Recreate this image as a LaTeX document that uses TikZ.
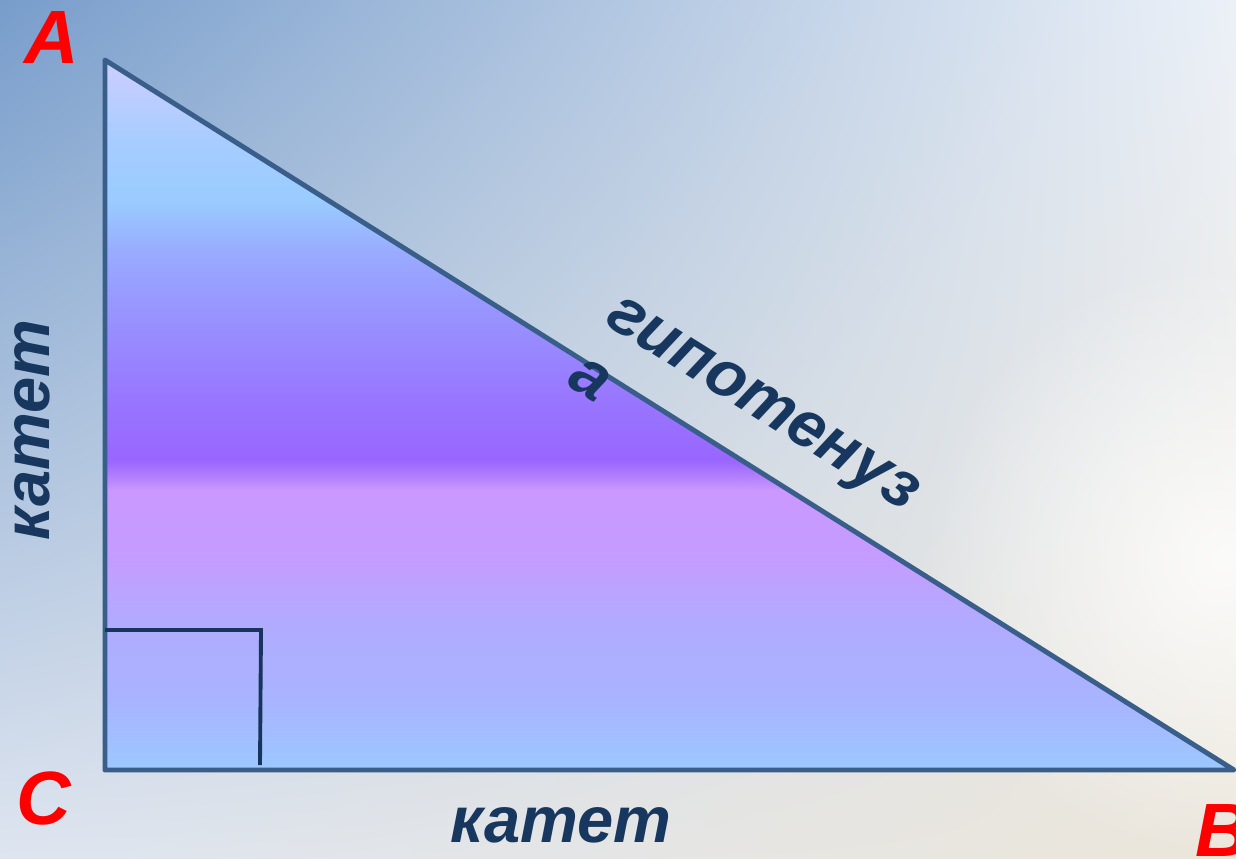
\documentclass[tikz,border=0pt]{standalone}
\usepackage{fontspec}
\setmainfont{Liberation Sans}
\usetikzlibrary{fadings, shadings}
\definecolor{fonUL}{RGB}{120,157,203}
\definecolor{fonUR}{RGB}{236,241,248}
\definecolor{fonLL}{RGB}{222,229,240}
\definecolor{fonLR}{RGB}{236,230,218}
\definecolor{kontur}{RGB}{58,94,138}
\definecolor{tekst}{RGB}{23,55,94}
\definecolor{ugol}{RGB}{24,52,92}
\definecolor{krasny}{RGB}{255,0,0}
\pgfdeclareverticalshading{zaliv}{100bp}{
  color(0bp)=(rgb,255:red,156;green,200;blue,255);
  color(25bp)=(rgb,255:red,156;green,200;blue,255);
  color(29.9bp)=(rgb,255:red,168;green,180;blue,255);
  color(35.6bp)=(rgb,255:red,178;green,170;blue,255);
  color(39.8bp)=(rgb,255:red,196;green,156;blue,255);
  color(44.7bp)=(rgb,255:red,202;green,152;blue,255);
  color(45.8bp)=(rgb,255:red,176;green,124;blue,255);
  color(46.8bp)=(rgb,255:red,153;green,102;blue,255);
  color(51.1bp)=(rgb,255:red,152;green,118;blue,255);
  color(58.1bp)=(rgb,255:red,152;green,152;blue,255);
  color(61.6bp)=(rgb,255:red,153;green,172;blue,255);
  color(65.1bp)=(rgb,255:red,153;green,204;blue,255);
  color(69.4bp)=(rgb,255:red,168;green,204;blue,255);
  color(75bp)=(rgb,255:red,206;green,206;blue,255);
  color(100bp)=(rgb,255:red,206;green,206;blue,255)}
\tikzfading[name=svet, inner color=transparent!0, outer color=transparent!100]
\tikzset{
  bukva/.style={font=\fontsize{43}{50}\selectfont\bfseries\itshape, text=krasny, inner sep=0pt},
  nadpis/.style={font=\fontsize{37}{41}\selectfont\bfseries\itshape, text=tekst, inner sep=0pt},
  storona/.style={draw=kontur, line width=2.8pt, line join=round},
  pryamoy/.style={draw=ugol, line width=2.2pt},
}
\begin{document}
\begin{tikzpicture}[x=0.02cm, y=-0.02cm]
\useasboundingbox (0,0) rectangle (1236,858);
% fon
\shade[upper left=fonUL, upper right=fonUR, lower left=fonLL, lower right=fonLR]
  (0,0) rectangle (1236,858);
\fill[white, path fading=svet, opacity=0.8] (1220,560) circle (300);

% vershiny
\coordinate (A) at (105,60);
\coordinate (C) at (105,770);
\coordinate (B) at (1234,770);

\shade[shading=zaliv] (A) -- (B) -- (C) -- cycle;
\draw[storona] (A) -- (B) -- (C) -- cycle;

% pryamoy ugol
\coordinate (u1) at (105,630);
\coordinate (u2) at (261,630);
\coordinate (u3) at (260,765);
\draw[pryamoy] (u1) -- (u2) -- (u3);

% bukvy
\node[bukva] (lA) at (52,38) {A};
\node[bukva] (lC) at (44,798) {C};
\node[bukva] (lB) at (1223,831) {B};

% nadpisi
\node[nadpis, rotate=90] (katet1) at (32,430) {катет};
\node[nadpis] (katet2) at (561,825) {катет};
\node[nadpis, rotate=-32, align=left, anchor=base west] (gipot) at (565,384)
  {гипотенуз\\а};
\end{tikzpicture}
\end{document}
